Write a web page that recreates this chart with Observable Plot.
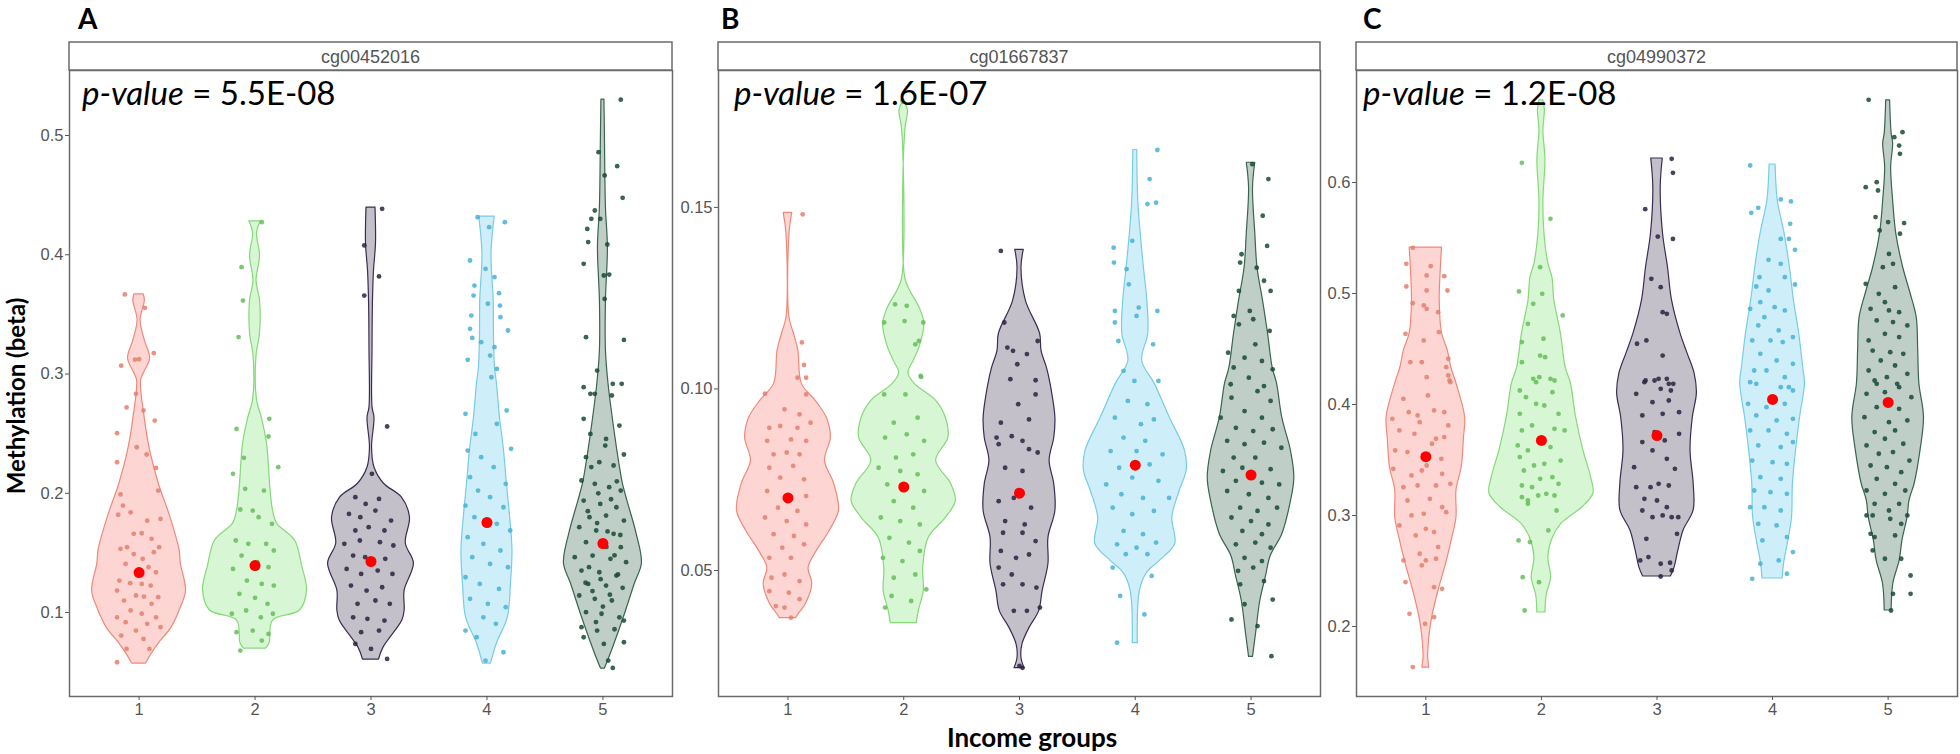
<!DOCTYPE html>
<html>
<head>
<meta charset="utf-8">
<script src="https://cdn.jsdelivr.net/npm/d3@7"></script>
<script src="https://cdn.jsdelivr.net/npm/@observablehq/plot@0.6"></script>
<style>
  html, body { margin: 0; padding: 0; background: #fff; }
  #chart { position: relative; width: 1960px; height: 754px; overflow: hidden; background: #fff; }
</style>
</head>
<body>
<div id="chart"></div>
<script>
// ---------------- DATA ----------------
const groups = [1, 2, 3, 4, 5];
const panelLetters = ["A", "B", "C"];
const probes = ["cg00452016", "cg01667837", "cg04990372"];
const pValues = ["5.5E-08", "1.6E-07", "1.2E-08"];
const xTitle = "Income groups";
const yTitle = "Methylation (beta)";

const yTicksA = [0.1, 0.2, 0.3, 0.4, 0.5];
const yTicksB = [0.05, 0.10, 0.15];
const yTicksC = [0.2, 0.3, 0.4, 0.5, 0.6];

// group means [group, value]
const meansA = [[1,0.1335],[2,0.1394],[3,0.1428],[4,0.1755],[5,0.1579]];
const meansB = [[1,0.070],[2,0.073],[3,0.0713],[4,0.079],[5,0.0763]];
const meansC = [[1,0.353],[2,0.3676],[3,0.372],[4,0.4045],[5,0.4018]];

// violin profiles per group: [value, half-width in group units]
const violinsA = [
  [[0.3667,0.04],[0.3617,0.05],[0.345,0.013],[0.328,0.05],[0.313,0.095],[0.301,0.043],[0.2945,0.017],[0.2635,0.048],[0.236,0.095],[0.208,0.17],[0.180,0.27],[0.152,0.35],[0.141,0.36],[0.118,0.405],[0.104,0.36],[0.0874,0.28],[0.074,0.17],[0.0656,0.11],[0.0572,0.06]],
  [[0.428,0.05],[0.418,0.017],[0.399,0.043],[0.378,0.013],[0.3616,0.043],[0.334,0.043],[0.3155,0.013],[0.278,0.017],[0.2635,0.058],[0.2417,0.103],[0.2023,0.134],[0.1855,0.155],[0.1746,0.19],[0.1604,0.345],[0.1394,0.405],[0.1184,0.448],[0.1017,0.388],[0.0933,0.155],[0.074,0.125],[0.0698,0.095]],
  [[0.4395,0.039],[0.409,0.043],[0.387,0.026],[0.3616,0.017],[0.32,0.013],[0.272,0.013],[0.2635,0.03],[0.2384,0.009],[0.2216,0.03],[0.208,0.112],[0.1964,0.267],[0.1797,0.336],[0.1579,0.30],[0.1411,0.37],[0.1184,0.29],[0.1017,0.29],[0.0933,0.27],[0.0706,0.108],[0.0606,0.069]],
  [[0.432,0.067],[0.401,0.039],[0.3616,0.058],[0.334,0.06],[0.3055,0.069],[0.292,0.086],[0.2635,0.112],[0.2358,0.147],[0.208,0.172],[0.1797,0.20],[0.152,0.22],[0.1243,0.207],[0.0958,0.18],[0.074,0.086],[0.0572,0.035]],
  [[0.530,0.013],[0.5017,0.017],[0.4396,0.026],[0.406,0.043],[0.3616,0.026],[0.3197,0.026],[0.292,0.048],[0.250,0.103],[0.2216,0.147],[0.208,0.172],[0.194,0.21],[0.1662,0.29],[0.1411,0.336],[0.1243,0.276],[0.0958,0.18],[0.068,0.078],[0.053,0.017]]
];
const violinsB = [
  [[0.1485,0.037],[0.1427,0.013],[0.1196,0.013],[0.1152,0.052],[0.1105,0.09],[0.1014,0.12],[0.0967,0.24],[0.092,0.336],[0.0865,0.37],[0.0802,0.32],[0.0738,0.40],[0.0664,0.44],[0.0609,0.36],[0.0554,0.25],[0.0507,0.178],[0.0463,0.21],[0.0408,0.155],[0.0383,0.1],[0.0369,0.07]],
  [[0.1785,0.017],[0.1766,0.037],[0.1711,0.013],[0.1306,0.013],[0.127,0.056],[0.1223,0.138],[0.1179,0.178],[0.1118,0.14],[0.1077,0.086],[0.1044,0.04],[0.1014,0.095],[0.0967,0.28],[0.092,0.364],[0.0865,0.385],[0.0802,0.28],[0.0738,0.41],[0.0691,0.45],[0.0645,0.364],[0.059,0.216],[0.0507,0.168],[0.0444,0.173],[0.0388,0.13],[0.0355,0.112]],
  [[0.1383,0.037],[0.1333,0.017],[0.1242,0.056],[0.1152,0.178],[0.1105,0.19],[0.1058,0.237],[0.1014,0.268],[0.092,0.31],[0.0865,0.30],[0.0802,0.26],[0.0738,0.30],[0.0664,0.31],[0.059,0.25],[0.0518,0.25],[0.0444,0.2],[0.0388,0.17],[0.0342,0.087],[0.0297,0.026],[0.0259,0.017],[0.0231,0.043]],
  [[0.1658,0.017],[0.1518,0.026],[0.1427,0.047],[0.1333,0.075],[0.1242,0.104],[0.1152,0.112],[0.1077,0.06],[0.1014,0.168],[0.092,0.30],[0.0829,0.43],[0.0774,0.443],[0.0719,0.384],[0.0645,0.32],[0.0573,0.345],[0.0526,0.21],[0.0493,0.10],[0.0444,0.04],[0.030,0.022]],
  [[0.1623,0.037],[0.1554,0.017],[0.1427,0.037],[0.1333,0.056],[0.1242,0.104],[0.1152,0.147],[0.1058,0.187],[0.1014,0.225],[0.092,0.27],[0.0829,0.345],[0.0755,0.374],[0.0691,0.345],[0.060,0.27],[0.054,0.17],[0.0485,0.13],[0.0416,0.08],[0.0325,0.043],[0.0262,0.017]]
];
const violinsC = [
  [[0.5414,0.14],[0.5234,0.13],[0.4937,0.12],[0.464,0.14],[0.4486,0.19],[0.4333,0.22],[0.4189,0.265],[0.3883,0.34],[0.3703,0.33],[0.3432,0.31],[0.3225,0.265],[0.2982,0.265],[0.2802,0.23],[0.2568,0.176],[0.2324,0.11],[0.2081,0.055],[0.19,0.03],[0.172,0.02],[0.163,0.03]],
  [[0.6739,0.017],[0.665,0.03],[0.647,0.017],[0.62,0.035],[0.5838,0.017],[0.554,0.026],[0.527,0.06],[0.5144,0.095],[0.4937,0.112],[0.464,0.168],[0.4333,0.21],[0.4189,0.255],[0.3883,0.30],[0.3586,0.363],[0.3342,0.43],[0.3198,0.45],[0.3072,0.353],[0.2928,0.176],[0.2802,0.10],[0.2622,0.06],[0.2441,0.084],[0.2279,0.045],[0.2126,0.035]],
  [[0.6216,0.05],[0.5955,0.032],[0.554,0.052],[0.5234,0.095],[0.4937,0.13],[0.464,0.203],[0.446,0.264],[0.428,0.325],[0.41,0.345],[0.3883,0.31],[0.3586,0.29],[0.3288,0.317],[0.3045,0.317],[0.2865,0.23],[0.2685,0.185],[0.2523,0.15],[0.245,0.12]],
  [[0.6162,0.026],[0.5838,0.045],[0.554,0.104],[0.5234,0.15],[0.4937,0.185],[0.464,0.23],[0.4333,0.265],[0.4189,0.28],[0.3883,0.238],[0.3586,0.203],[0.3288,0.176],[0.2982,0.168],[0.2748,0.132],[0.2568,0.10],[0.2432,0.087]],
  [[0.6739,0.017],[0.644,0.03],[0.635,0.043],[0.6135,0.026],[0.5838,0.043],[0.554,0.07],[0.5234,0.13],[0.50,0.194],[0.4784,0.247],[0.4486,0.26],[0.4189,0.27],[0.3883,0.31],[0.3586,0.28],[0.3288,0.23],[0.3135,0.185],[0.2982,0.168],[0.2775,0.124],[0.2595,0.10],[0.2387,0.045],[0.2144,0.03]]
];

// jittered observations per group: [jitter offset, value]
const dotsA = [
  [[-0.123,0.3667],[0.05,0.3555],[-0.154,0.307],[-0.035,0.312],[0,0.3124],[0.127,0.3175],[-0.027,0.2834],[-0.108,0.272],[0.038,0.2694],[0.135,0.261],[-0.02,0.2386],[-0.19,0.2504],[0.065,0.2325],[-0.19,0.226],[0.146,0.2213],[-0.16,0.199],[0.165,0.2023],[-0.139,0.1897],[-0.18,0.182],[-0.073,0.184],[0.185,0.1785],[0.07,0.177],[-0.046,0.166],[0.023,0.1665],[0.108,0.1618],[-0.16,0.1534],[-0.104,0.1548],[0.173,0.1548],[0.127,0.1506],[-0.046,0.149],[0.031,0.145],[-0.116,0.1408],[0.081,0.138],[0.146,0.1338],[-0.17,0.1268],[-0.077,0.1246],[0.023,0.124],[0.1,0.1226],[-0.19,0.1184],[-0.027,0.1143],[0.042,0.1134],[0.165,0.1129],[-0.13,0.11],[0.108,0.1073],[-0.073,0.1017],[0.023,0.099],[-0.19,0.096],[0.146,0.096],[-0.116,0.0919],[0.07,0.0905],[-0.027,0.0849],[0.185,0.0877],[-0.154,0.0807],[0.038,0.0779],[0.089,0.0695],[-0.108,0.0695],[-0.19,0.0583]],
  [[-0.116,0.3896],[-0.104,0.3616],[-0.142,0.331],[0.058,0.4273],[0.123,0.2624],[-0.16,0.254],[-0.096,0.2297],[0.116,0.2476],[-0.19,0.2163],[0.2,0.2219],[-0.085,0.2037],[0.077,0.2023],[-0.127,0.1864],[-0.02,0.1855],[0.031,0.18],[0.146,0.1744],[-0.166,0.1604],[-0.058,0.1576],[0.096,0.1576],[0.162,0.152],[-0.116,0.1478],[0.019,0.1422],[0.116,0.138],[-0.19,0.1366],[-0.07,0.1268],[0.058,0.124],[0.162,0.1226],[-0.135,0.1157],[0,0.1123],[0.108,0.1073],[-0.2,0.099],[-0.077,0.1017],[0.05,0.096],[0.154,0.099],[-0.16,0.0835],[-0.02,0.0849],[0.116,0.0821],[-0.127,0.0681],[0.058,0.0765]],
  [[0.096,0.4385],[-0.058,0.4078],[0.069,0.3818],[-0.058,0.3658],[0.139,0.256],[0.008,0.2163],[-0.135,0.1967],[-0.046,0.1911],[0.069,0.1953],[-0.19,0.1827],[-0.092,0.18],[0.038,0.1855],[0.173,0.1771],[-0.135,0.1688],[-0.02,0.1716],[0.116,0.1688],[-0.23,0.1576],[-0.096,0.1604],[0.077,0.159],[0.193,0.1562],[-0.154,0.1478],[-0.05,0.1464],[0.123,0.145],[-0.21,0.1366],[-0.085,0.1324],[0.058,0.1352],[0.185,0.1324],[-0.173,0.1226],[-0.038,0.1184],[0.096,0.1212],[-0.116,0.1073],[0.038,0.1101],[0.162,0.1073],[-0.154,0.096],[-0.031,0.0947],[0.116,0.0933],[-0.085,0.0835],[0.069,0.0849],[-0.135,0.0737],[0,0.0695],[0.139,0.0611]],
  [[-0.081,0.4315],[0.019,0.4231],[0.154,0.4273],[-0.146,0.3952],[-0.012,0.3882],[0.065,0.3812],[-0.108,0.3742],[0.104,0.3678],[-0.116,0.3658],[0.008,0.3589],[0.112,0.3574],[-0.135,0.349],[0.116,0.3477],[-0.146,0.3379],[0.181,0.3365],[-0.127,0.3303],[-0.05,0.3267],[0.065,0.3225],[-0.166,0.3119],[0.027,0.3155],[0.085,0.3043],[0.038,0.2973],[-0.185,0.2666],[0.17,0.2694],[-0.1,0.2498],[0.085,0.2582],[-0.166,0.2358],[0.208,0.2373],[-0.05,0.2303],[0.058,0.2219],[-0.146,0.2135],[0.162,0.2079],[-0.077,0.2023],[0.027,0.1967],[-0.185,0.1897],[0.142,0.1883],[-0.108,0.18],[0.085,0.1744],[0.2,0.1688],[-0.166,0.1632],[-0.031,0.1576],[0.116,0.152],[-0.127,0.1464],[0.027,0.1408],[0.181,0.138],[-0.185,0.1296],[-0.062,0.124],[0.104,0.1198],[-0.146,0.1115],[0.008,0.1073],[0.162,0.1045],[-0.185,0.0849],[-0.031,0.096],[0.077,0.0905],[-0.089,0.0793],[0.142,0.0667],[-0.012,0.0597]],
  [[0.154,0.53],[-0.038,0.486],[0.123,0.4743],[0.015,0.4665],[0.17,0.4477],[-0.07,0.4371],[-0.1,0.4301],[-0.023,0.4301],[-0.135,0.4217],[-0.127,0.4106],[0.038,0.4086],[-0.166,0.3924],[0.008,0.3826],[0.054,0.3834],[0.015,0.363],[-0.146,0.3309],[0.181,0.3286],[-0.05,0.3029],[-0.166,0.289],[0.085,0.2918],[0.162,0.2918],[-0.108,0.2834],[-0.07,0.2834],[0.077,0.282],[-0.166,0.2624],[0.142,0.2568],[-0.108,0.2498],[0.027,0.2456],[0.181,0.2325],[-0.146,0.2303],[-0.031,0.2261],[0.092,0.2233],[-0.185,0.2107],[-0.07,0.2079],[0.054,0.2051],[0.154,0.2023],[-0.166,0.1939],[-0.023,0.1911],[0.116,0.1883],[-0.116,0.18],[0.027,0.1813],[0.181,0.1771],[-0.204,0.1716],[-0.058,0.1688],[0.092,0.166],[-0.146,0.159],[0.008,0.1562],[0.154,0.1548],[-0.243,0.1464],[-0.089,0.1478],[0.065,0.145],[0.2,0.1422],[-0.185,0.1352],[-0.031,0.1338],[0.116,0.131],[-0.127,0.124],[0.027,0.1226],[0.17,0.1207],[-0.204,0.1143],[-0.07,0.1115],[0.077,0.1101],[-0.146,0.1003],[-0.012,0.099],[0.142,0.096],[-0.185,0.0877],[-0.05,0.0849],[0.181,0.0933],[-0.166,0.0793],[0.008,0.0737],[0.181,0.0751],[0.046,0.0597],[0.085,0.0536],[-0.05,0.175],[0.03,0.155],[-0.12,0.138],[0.1,0.148],[-0.02,0.128],[0.13,0.132],[-0.09,0.118],[0.06,0.115],[-0.15,0.125],[0,0.105],[-0.06,0.092],[0.1,0.086],[0.04,0.168],[-0.13,0.185],[0.15,0.165],[0.07,0.195],[-0.04,0.2],[0.12,0.21],[-0.1,0.222],[0.02,0.24]]
];
const dotsB = [
  [[0.127,0.1481],[0.12,0.1128],[0.139,0.1066],[0.082,0.1031],[0.157,0.1031],[-0.198,0.0987],[0.157,0.0985],[0.1,0.093],[-0.03,0.0944],[-0.161,0.0893],[-0.067,0.0898],[0.082,0.0893],[0.195,0.0907],[-0.18,0.0857],[0.026,0.0861],[0.157,0.0857],[-0.124,0.082],[-0.011,0.0825],[0.1,0.082],[-0.161,0.0783],[0.045,0.0788],[-0.067,0.0756],[0.139,0.0751],[-0.18,0.0719],[0.0075,0.07],[0.157,0.0705],[-0.086,0.0673],[0.082,0.0664],[-0.198,0.0646],[-0.011,0.0636],[0.157,0.0627],[-0.124,0.06],[0.052,0.0595],[-0.049,0.0563],[0.139,0.0572],[-0.161,0.0535],[0.026,0.0535],[-0.142,0.048],[-0.03,0.0489],[0.1,0.0471],[-0.161,0.0443],[0.0075,0.0439],[0.1,0.0421],[-0.105,0.0402],[-0.03,0.0398],[0.026,0.037]],
  [[-0.011,0.1793],[-0.169,0.1183],[-0.075,0.1233],[0.026,0.1229],[0.169,0.1183],[0.0075,0.1187],[0.131,0.1132],[0.1,0.1123],[0.15,0.1033],[-0.169,0.0985],[0.015,0.0985],[0.146,0.1036],[-0.086,0.0907],[0.12,0.0921],[-0.161,0.0866],[0.026,0.0875],[0.176,0.0857],[-0.067,0.0811],[0.082,0.082],[-0.217,0.0783],[-0.03,0.0774],[0.12,0.0765],[-0.142,0.0737],[0.026,0.0728],[0.176,0.0719],[-0.086,0.0691],[0.082,0.0673],[-0.198,0.0646],[-0.03,0.0636],[0.139,0.0627],[-0.124,0.059],[0.045,0.0577],[-0.18,0.0535],[-0.011,0.0526],[0.139,0.0554],[-0.086,0.048],[0.1,0.0489],[0.195,0.0448],[-0.161,0.0398],[0.064,0.0416],[-0.105,0.043]],
  [[-0.161,0.138],[-0.131,0.1183],[-0.105,0.1114],[-0.056,0.1105],[0.157,0.1132],[0.064,0.1096],[-0.019,0.1068],[-0.079,0.1027],[0.139,0.1024],[-0.011,0.0958],[0.139,0.0985],[-0.161,0.0907],[0.082,0.0916],[-0.198,0.0866],[-0.067,0.087],[0.026,0.0857],[-0.18,0.0848],[0.082,0.0834],[0.157,0.0825],[-0.124,0.0783],[0.026,0.0774],[-0.18,0.0691],[-0.049,0.07],[0.1,0.0673],[-0.124,0.0636],[0.045,0.0627],[-0.142,0.0604],[0.026,0.0604],[0.139,0.0581],[-0.161,0.0554],[-0.03,0.0535],[0.082,0.0544],[-0.18,0.0508],[-0.067,0.0489],[0.026,0.0462],[0.146,0.0453],[-0.142,0.0462],[-0.049,0.0389],[0.064,0.0389],[0.176,0.0398],[0.026,0.0232],[0,0.0237]],
  [[0.191,0.1658],[0.124,0.1578],[0.105,0.1509],[0.18,0.1513],[-0.187,0.1389],[-0.184,0.1348],[-0.026,0.1408],[-0.075,0.133],[-0.056,0.1288],[-0.176,0.1215],[-0.176,0.1183],[0.03,0.1224],[0.191,0.1215],[0.011,0.1201],[-0.146,0.1132],[0.154,0.1123],[-0.101,0.105],[-0.0075,0.1022],[0.2,0.1022],[-0.064,0.0967],[0.105,0.0958],[-0.176,0.0921],[0.049,0.0903],[0.161,0.0916],[-0.101,0.0866],[0.086,0.0857],[-0.213,0.0829],[0.011,0.0829],[0.236,0.082],[-0.139,0.0783],[0.124,0.0792],[-0.026,0.0756],[-0.251,0.0737],[0.2,0.0747],[-0.12,0.071],[0.067,0.07],[0.292,0.07],[-0.195,0.0673],[-0.026,0.0655],[0.161,0.0664],[-0.101,0.0609],[0.067,0.06],[-0.157,0.0572],[0.011,0.0563],[0.18,0.0577],[-0.082,0.0545],[0.105,0.0545],[-0.195,0.0508],[0.142,0.0485],[-0.131,0.043],[0.079,0.0379],[-0.157,0.0301]],
  [[0.011,0.1619],[0.15,0.1578],[0.101,0.1477],[0.139,0.1394],[-0.082,0.1371],[0.049,0.1334],[-0.094,0.1348],[0.112,0.1298],[-0.105,0.127],[0.169,0.127],[-0.15,0.1201],[-0.011,0.1215],[0.019,0.1192],[-0.105,0.1178],[0.161,0.116],[0.037,0.1123],[-0.198,0.11],[-0.056,0.1086],[0.094,0.1077],[-0.15,0.1059],[0.187,0.1054],[-0.019,0.1031],[-0.176,0.1013],[0.112,0.1008],[0.056,0.0994],[-0.169,0.0976],[0.169,0.0967],[-0.056,0.0939],[-0.262,0.0921],[0.094,0.0921],[-0.131,0.0893],[0.019,0.0884],[0.187,0.0889],[-0.206,0.0857],[-0.056,0.0848],[0.112,0.0852],[0.262,0.0838],[-0.15,0.0811],[0.037,0.0811],[-0.243,0.0774],[-0.075,0.0783],[0.169,0.0779],[-0.131,0.0747],[0.094,0.0742],[0.243,0.0737],[-0.206,0.0719],[-0.019,0.071],[0.15,0.07],[-0.094,0.0673],[0.056,0.0664],[0.225,0.0673],[-0.169,0.0646],[0,0.0636],[0.15,0.0627],[-0.075,0.0609],[0.094,0.06],[-0.131,0.0572],[0.037,0.0577],[0.169,0.0563],[-0.056,0.0535],[0.094,0.0526],[-0.112,0.0499],[0.019,0.0508],[-0.094,0.0462],[0.112,0.0471],[-0.056,0.0407],[0.187,0.042],[-0.169,0.0365],[0.056,0.0347],[0.176,0.0264]]
];
const dotsC = [
  [[-0.113,0.5411],[-0.169,0.5267],[0.042,0.5246],[0.007,0.5162],[0.159,0.5156],[-0.169,0.5063],[0.007,0.5027],[0.187,0.5027],[-0.113,0.4913],[-0.018,0.4892],[0.007,0.4862],[0.106,0.4832],[-0.176,0.4637],[-0.018,0.4577],[0.113,0.4652],[0.194,0.4411],[-0.134,0.4381],[-0.035,0.4381],[0.176,0.4336],[0.007,0.4246],[0.205,0.4216],[0.194,0.4261],[0.212,0.4201],[0.018,0.4081],[-0.194,0.4051],[-0.148,0.3931],[-0.071,0.3901],[0.071,0.3946],[0.159,0.3931],[-0.29,0.3871],[-0.053,0.3841],[0.194,0.3811],[-0.229,0.3766],[-0.099,0.3736],[0.088,0.3691],[0.053,0.3646],[0.159,0.3706],[-0.265,0.3586],[-0.159,0.3571],[0.007,0.345],[0.134,0.351],[0.141,0.3375],[-0.282,0.342],[-0.124,0.336],[-0.035,0.3405],[0.212,0.3285],[-0.194,0.3255],[-0.071,0.327],[0.088,0.327],[-0.159,0.3135],[0.035,0.315],[0.141,0.3075],[-0.124,0.3],[-0.018,0.3015],[0.176,0.303],[-0.229,0.291],[0,0.288],[0.071,0.285],[-0.088,0.282],[0.106,0.2715],[-0.053,0.2655],[0,0.2595],[-0.194,0.2595],[0.088,0.261],[-0.035,0.255],[-0.176,0.24],[0.071,0.2354],[0.141,0.2339],[-0.141,0.2114],[0.071,0.2084],[-0.007,0.2024],[-0.113,0.1634]],
  [[-0.169,0.6177],[0.078,0.5673],[-0.194,0.5018],[-0.011,0.5237],[0.007,0.4997],[-0.071,0.4907],[0.184,0.4802],[-0.117,0.4727],[0.018,0.4592],[-0.169,0.4562],[-0.011,0.4441],[0.032,0.4426],[-0.169,0.4381],[-0.071,0.4231],[-0.018,0.4246],[0.078,0.4231],[-0.187,0.4126],[-0.046,0.4201],[0.113,0.4216],[-0.134,0.4066],[0.095,0.4111],[-0.187,0.3916],[-0.046,0.4006],[0.025,0.3991],[0.148,0.3916],[-0.169,0.3766],[-0.081,0.3811],[0.113,0.3781],[0.201,0.3766],[-0.205,0.3631],[-0.117,0.3586],[0.078,0.3616],[0.166,0.3495],[-0.187,0.3526],[-0.064,0.345],[0.025,0.3465],[-0.152,0.3405],[0.095,0.3345],[-0.011,0.333],[-0.169,0.327],[-0.081,0.3255],[0.148,0.3285],[-0.169,0.3165],[-0.117,0.3135],[-0.028,0.318],[0.042,0.3195],[0.113,0.318],[-0.117,0.3105],[0.131,0.3045],[0.06,0.2865],[-0.198,0.2775],[-0.099,0.276],[-0.162,0.2444],[-0.021,0.2399],[-0.145,0.2144]],
  [[0.127,0.6213],[0.138,0.6087],[-0.102,0.576],[0.007,0.5513],[0.138,0.5492],[-0.049,0.5132],[0.032,0.5057],[0.049,0.4832],[0.085,0.4817],[-0.173,0.4547],[-0.092,0.4577],[0.049,0.4441],[-0.099,0.4216],[-0.021,0.4216],[0.085,0.4231],[0.141,0.4186],[0.032,0.4141],[-0.109,0.4201],[0.014,0.4231],[0.102,0.4186],[-0.18,0.4096],[0.12,0.4126],[-0.039,0.4021],[0.102,0.4036],[-0.127,0.3901],[0.049,0.3916],[0.191,0.3931],[-0.021,0.3751],[0.067,0.3676],[0.191,0.3736],[-0.127,0.3661],[-0.198,0.3435],[-0.039,0.3586],[0.085,0.351],[0.155,0.342],[-0.18,0.3255],[-0.056,0.3255],[0.102,0.327],[0.014,0.3285],[-0.109,0.315],[0,0.3135],[0.085,0.3075],[-0.127,0.3045],[-0.039,0.2985],[0.049,0.3],[0.127,0.2985],[0.184,0.2985],[0.173,0.2835],[-0.092,0.279],[-0.145,0.2595],[-0.074,0.2625],[0.032,0.2565],[0.113,0.2574],[0.127,0.2505],[0.032,0.245]],
  [[-0.194,0.6153],[0.071,0.5847],[0.159,0.5829],[-0.184,0.5727],[-0.124,0.5772],[0.152,0.5628],[0.071,0.5492],[0.141,0.5492],[0.194,0.5393],[-0.035,0.5303],[0.071,0.5267],[-0.113,0.5147],[0.106,0.5147],[-0.141,0.5063],[0.194,0.5081],[-0.035,0.5027],[-0.106,0.4922],[-0.194,0.4862],[0.018,0.4877],[0.106,0.4847],[-0.071,0.4787],[-0.124,0.4712],[0.053,0.4667],[0.176,0.4607],[-0.176,0.4577],[-0.018,0.4577],[0.088,0.4562],[-0.106,0.4456],[0.035,0.4396],[0.176,0.4366],[-0.159,0.4306],[-0.053,0.4306],[0.106,0.4246],[-0.194,0.4201],[0.141,0.4156],[-0.141,0.4186],[0.071,0.4156],[0.176,0.4126],[-0.212,0.4006],[-0.053,0.3976],[0.106,0.4006],[-0.141,0.3901],[0.035,0.3856],[0.176,0.3871],[-0.194,0.3766],[-0.035,0.3766],[0.124,0.3736],[-0.124,0.3631],[0.071,0.3616],[0.176,0.3661],[-0.176,0.3495],[0,0.348],[0.124,0.3465],[-0.106,0.3345],[0.071,0.333],[-0.159,0.3225],[-0.018,0.321],[0.124,0.3195],[-0.194,0.3075],[-0.071,0.3075],[0.071,0.3045],[-0.124,0.2925],[0.035,0.291],[0.124,0.2805],[-0.088,0.2775],[0.176,0.267],[-0.106,0.2565],[0.053,0.2595],[0.124,0.2475],[-0.176,0.2429]],
  [[-0.169,0.6745],[0.053,0.6408],[0.124,0.6453],[0.095,0.6333],[0.102,0.6258],[-0.194,0.5958],[-0.099,0.6003],[-0.088,0.5928],[-0.109,0.5688],[0,0.5643],[0.138,0.5634],[-0.074,0.5568],[0.102,0.5538],[-0.194,0.5087],[0.007,0.5357],[0.042,0.5267],[-0.046,0.5237],[-0.081,0.4997],[0.06,0.5057],[-0.028,0.4922],[-0.152,0.4862],[0.007,0.4847],[0.095,0.4832],[-0.099,0.4757],[0.042,0.4742],[0.166,0.4712],[-0.028,0.4637],[0.095,0.4607],[-0.169,0.4577],[-0.134,0.4486],[0.018,0.4471],[0.131,0.4456],[-0.064,0.4396],[0.06,0.4351],[-0.169,0.4306],[-0.011,0.4246],[0.166,0.4276],[-0.099,0.4186],[0.095,0.4156],[-0.117,0.4216],[0.078,0.4186],[-0.187,0.4096],[-0.028,0.4111],[0.201,0.4066],[-0.099,0.3976],[0.095,0.3961],[-0.205,0.3886],[0.007,0.3841],[0.166,0.3856],[-0.117,0.3751],[0.06,0.3766],[-0.028,0.3691],[-0.187,0.3631],[0.131,0.3646],[-0.081,0.3556],[0.042,0.3571],[0.184,0.3495],[-0.152,0.345],[-0.011,0.3435],[0.113,0.339],[-0.099,0.333],[0.06,0.3285],[-0.187,0.3225],[-0.028,0.3195],[0.148,0.3225],[-0.117,0.3105],[0.095,0.3105],[0.007,0.3045],[0.166,0.3],[-0.187,0.3],[-0.134,0.3],[0.018,0.297],[0.113,0.2925],[-0.152,0.2835],[-0.117,0.2805],[0.06,0.282],[-0.134,0.2685],[-0.028,0.261],[0.113,0.261],[0.194,0.2459],[0.042,0.2294],[0.194,0.2294],[0.025,0.2144]]
];

// ---------------- STYLE / LAYOUT ----------------
const fills   = ["#F8766D", "#7CE070", "#3A2D50", "#5CC8EA", "#2A5E45"];
const strokes = ["#F0887A", "#86D878", "#3A2D50", "#78CCE4", "#3A6450"];
const dotFill = ["#E3806E", "#66BD5A", "#2A2240", "#48B2D4", "#184A34"];

const TOP = 70, BOTTOM = 696, STRIP_TOP = 42;
const M = {l: 50, r: 3, t: 3, b: 40};
const layout = [
  {left: 69,   right: 672,  yDomain: [0.0296, 0.5545], fmt: ".1f", letterX: 78,   pX: 82},
  {left: 718,  right: 1320, yDomain: [0.0153, 0.1877], fmt: ".2f", letterX: 721,  pX: 734},
  {left: 1356, right: 1957, yDomain: [0.1369, 0.7009], fmt: ".1f", letterX: 1363, pX: 1363}
];
const panels = [
  {violins: violinsA, dots: dotsA, means: meansA, yTicks: yTicksA},
  {violins: violinsB, dots: dotsB, means: meansB, yTicks: yTicksB},
  {violins: violinsC, dots: dotsC, means: meansC, yTicks: yTicksC}
];

const chart = document.getElementById("chart");
const tickFont = "'Liberation Sans', Arial, sans-serif";

panels.forEach((P, i) => {
  const L = layout[i];
  const marks = [];
  P.violins.forEach((prof, k) => {
    const g = groups[k];
    marks.push(Plot.areaX(prof, {
      y: d => d[0], x1: d => g - d[1], x2: d => g + d[1],
      curve: "catmull-rom", fill: fills[k], fillOpacity: 0.3,
      stroke: strokes[k], strokeWidth: 1.2
    }));
  });
  P.dots.forEach((pts, k) => {
    const g = groups[k];
    marks.push(Plot.dot(pts, {x: d => g + d[0], y: d => d[1], r: 2.4, fill: dotFill[k], fillOpacity: 0.85}));
  });
  marks.push(Plot.dot(P.means, {x: d => d[0], y: d => d[1], r: 5.5, fill: "#ff0000"}));
  marks.push(Plot.frame({stroke: "#6b6b6b", strokeWidth: 1.5}));
  marks.push(Plot.axisY(P.yTicks, {tickFormat: d3.format(L.fmt), tickSize: 4, tickPadding: 2, label: null}));
  marks.push(Plot.axisX(groups, {tickFormat: d => String(d), tickSize: 4, tickPadding: 3, label: null}));

  const svg = Plot.plot({
    width: (L.right - L.left) + M.l + M.r,
    height: (BOTTOM - TOP) + M.t + M.b,
    marginLeft: M.l, marginRight: M.r, marginTop: M.t, marginBottom: M.b,
    x: {type: "linear", domain: [0.4, 5.6]},
    y: {type: "linear", domain: L.yDomain},
    style: {background: "transparent", overflow: "visible", color: "#555", fontFamily: tickFont, fontSize: "16.5px"},
    marks
  });
  svg.style.position = "absolute";
  svg.style.left = (L.left - M.l) + "px";
  svg.style.top = (TOP - M.t) + "px";
  chart.appendChild(svg);
});

// overlay: strips, panel letters, p-values, axis titles
const ov = d3.select(chart).append("svg")
  .attr("width", 1960).attr("height", 754)
  .style("position", "absolute").style("left", "0px").style("top", "0px");

layout.forEach((L, i) => {
  ov.append("rect")
    .attr("x", L.left).attr("y", STRIP_TOP)
    .attr("width", L.right - L.left).attr("height", TOP - STRIP_TOP)
    .attr("fill", "#fff").attr("stroke", "#6b6b6b").attr("stroke-width", 1.5);
  ov.append("text")
    .attr("x", (L.left + L.right) / 2).attr("y", 63)
    .attr("text-anchor", "middle")
    .attr("font-family", tickFont).attr("font-size", 18).attr("fill", "#555")
    .text(probes[i]);
  ov.append("text")
    .attr("x", L.letterX).attr("y", 29)
    .attr("font-family", "Lato, 'Open Sans', sans-serif").attr("font-weight", "bold")
    .attr("font-size", 28).attr("fill", "#000")
    .text(panelLetters[i]);
  const t = ov.append("text")
    .attr("x", L.pX).attr("y", 105)
    .attr("font-family", "Lato, 'Open Sans', sans-serif").attr("font-size", 33).attr("fill", "#000");
  t.append("tspan").attr("font-style", "italic").text("p-value");
  t.append("tspan").text(" = " + pValues[i]);
});

ov.append("text")
  .attr("transform", "translate(25,396) rotate(-90)")
  .attr("text-anchor", "middle")
  .attr("font-family", "Lato, 'Open Sans', sans-serif").attr("font-weight", "bold")
  .attr("font-size", 24).attr("fill", "#000")
  .text(yTitle);

ov.append("text")
  .attr("x", 1032).attr("y", 747)
  .attr("text-anchor", "middle")
  .attr("font-family", "Lato, 'Open Sans', sans-serif").attr("font-weight", "bold")
  .attr("font-size", 26).attr("fill", "#000")
  .text(xTitle);
</script>
</body>
</html>
